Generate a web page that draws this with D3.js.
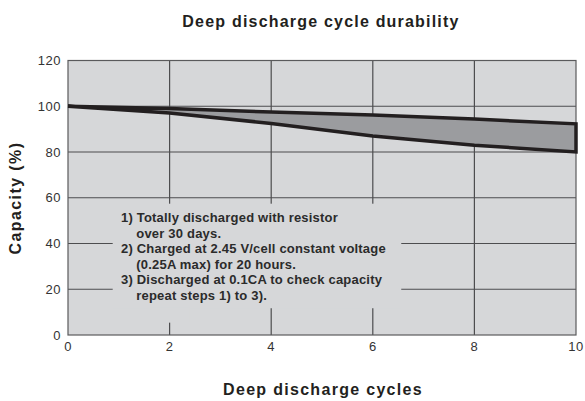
<!DOCTYPE html>
<html>
<head>
<meta charset="utf-8">
<script src="https://cdn.jsdelivr.net/npm/d3@7"></script>
<style>
  body { margin: 0; background: #fff; }
  svg text { font-family: "Liberation Sans", Arial, sans-serif; }
</style>
</head>
<body>
<div id="chart"></div>
<script>
var cycles = [0, 2, 4, 6, 8, 10]
var upper = [100, 99, 97.5, 96.2, 94.4, 92.3]
var lower = [100, 97, 92.5, 87, 83, 80]
var xTicks = [0, 2, 4, 6, 8, 10]
var yTicks = [0, 20, 40, 60, 80, 100, 120]
var notes = [
  "1) Totally discharged with resistor",
  "    over 30 days.",
  "2) Charged at 2.45 V/cell constant voltage",
  "    (0.25A max) for 20 hours.",
  "3) Discharged at 0.1CA to check capacity",
  "    repeat steps 1) to 3)."
]

var width = 585, height = 401
var margin = { top: 60.5, right: 9, bottom: 66, left: 68 }
var bg = "#d6d7d9"

var svg = d3.select("#chart").append("svg")
  .attr("width", width)
  .attr("height", height)

var x = d3.scaleLinear().domain([0, 10]).range([margin.left, width - margin.right])
var y = d3.scaleLinear().domain([0, 120]).range([height - margin.bottom, margin.top])

// plot background
svg.append("rect")
  .attr("x", x(0)).attr("y", y(120))
  .attr("width", x(10) - x(0)).attr("height", y(0) - y(120))
  .attr("fill", bg)

// grid
svg.append("g")
  .selectAll("line")
  .data(yTicks.filter(function(d) { return d > 0 && d < 120 }))
  .enter().append("line")
  .attr("x1", x(0)).attr("x2", x(10))
  .attr("y1", function(d) { return y(d) }).attr("y2", function(d) { return y(d) })
  .attr("stroke", "#4d4d4f").attr("stroke-width", 1.2)

svg.append("g")
  .selectAll("line")
  .data(xTicks.filter(function(d) { return d > 0 && d < 10 }))
  .enter().append("line")
  .attr("x1", function(d) { return x(d) }).attr("x2", function(d) { return x(d) })
  .attr("y1", y(120)).attr("y2", y(0))
  .attr("stroke", "#4d4d4f").attr("stroke-width", 1.2)

// blank area behind the notes
svg.append("rect")
  .attr("x", x(0.88)).attr("y", y(57.4))
  .attr("width", x(6.56) - x(0.88)).attr("height", y(11.7) - y(57.4))
  .attr("fill", bg)
svg.append("rect")
  .attr("x", x(1.6)).attr("y", y(12))
  .attr("width", x(2.4) - x(1.6)).attr("height", y(5.4) - y(12))
  .attr("fill", bg)

// frame
svg.append("rect")
  .attr("x", x(0)).attr("y", y(120))
  .attr("width", x(10) - x(0)).attr("height", y(0) - y(120))
  .attr("fill", "none")
  .attr("stroke", "#5a5a5c").attr("stroke-width", 1.2)

// band between the two curves
var pts = cycles.map(function(c, i) { return [x(c), y(upper[i])] })
  .concat(cycles.map(function(c, i) { return [x(c), y(lower[i])] }).reverse())

svg.append("path")
  .attr("d", d3.line()(pts) + "Z")
  .attr("fill", "#9b9c9f")
  .attr("stroke", "#231f20")
  .attr("stroke-width", 3.5)
  .attr("stroke-linejoin", "miter")

// tick labels
svg.append("g")
  .selectAll("text")
  .data(yTicks)
  .enter().append("text")
  .attr("x", x(0) - 7)
  .attr("y", function(d) { return y(d) + 4.5 })
  .attr("text-anchor", "end")
  .attr("font-size", 13)
  .attr("letter-spacing", 0.5)
  .attr("fill", "#333")
  .text(function(d) { return d })

svg.append("g")
  .selectAll("text")
  .data(xTicks)
  .enter().append("text")
  .attr("x", function(d) { return x(d) })
  .attr("y", y(0) + 16)
  .attr("text-anchor", "middle")
  .attr("font-size", 13)
  .attr("letter-spacing", 0.5)
  .attr("fill", "#333")
  .text(function(d) { return d })

// notes
svg.append("g")
  .selectAll("text")
  .data(notes)
  .enter().append("text")
  .attr("x", 121)
  .attr("y", function(d, i) { return 222 + i * 15.5 })
  .attr("font-size", 13)
  .attr("letter-spacing", 0.2)
  .attr("font-weight", "bold")
  .attr("fill", "#2b2b2b")
  .style("white-space", "pre")
  .text(function(d) { return d })

// titles
svg.append("text")
  .attr("x", 321).attr("y", 27)
  .attr("text-anchor", "middle")
  .attr("font-size", 16).attr("font-weight", "bold")
  .attr("letter-spacing", 1.2)
  .attr("fill", "#231f20")
  .text("Deep discharge cycle durability")

svg.append("text")
  .attr("x", 323).attr("y", 395)
  .attr("text-anchor", "middle")
  .attr("font-size", 16).attr("font-weight", "bold")
  .attr("letter-spacing", 1.3)
  .attr("fill", "#231f20")
  .text("Deep discharge cycles")

svg.append("text")
  .attr("transform", "translate(21,198) rotate(-90)")
  .attr("text-anchor", "middle")
  .attr("font-size", 16).attr("font-weight", "bold")
  .attr("letter-spacing", 1.4)
  .attr("fill", "#231f20")
  .text("Capacity (%)")
</script>
</body>
</html>
